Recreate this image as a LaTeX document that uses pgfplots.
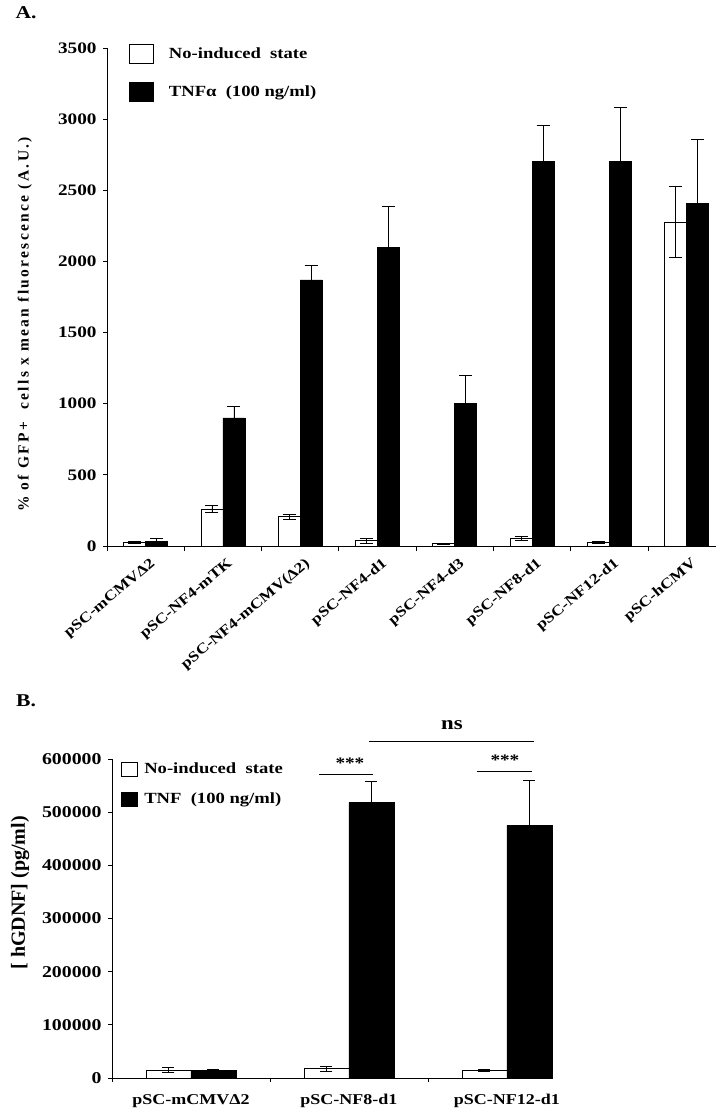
\documentclass[border=0pt]{standalone}
\usepackage{fontspec}
\setmainfont{Liberation Serif}[FakeStretch=1.2]
\newfontfamily\ylfontA{Liberation Serif}[LetterSpace=15]
\newfontfamily\ylfontB{Liberation Serif}
\usepackage{pgfplots}
\pgfplotsset{compat=1.18}
\newcommand{\fs}[1]{\fontsize{#1}{#1}\selectfont}
\begin{document}
\begin{tikzpicture}[x=1pt,y=1pt]
\useasboundingbox (0,0) rectangle (716,-1113);
\node[font=\bfseries\fs{18}] at (26,-12.5) {A.};
\node[font=\bfseries\fs{18}] at (26,-701) {B.};
% ---------------- Panel A ----------------
\begin{axis}[
  at={(107pt,-546pt)}, anchor=south west,
  scale only axis, width=609pt, height=498pt,
  xmin=-0.5, xmax=7.38, ymin=0, ymax=3500,
  axis lines=left, axis line style={-, line width=0.8pt},
  ybar=0pt, bar width=22pt,
  xtick={0,...,7},
  xticklabels={pSC-mCMVΔ2,pSC-NF4-mTK,pSC-NF4-mCMV(Δ2),pSC-NF4-d1,pSC-NF4-d3,pSC-NF8-d1,pSC-NF12-d1,pSC-hCMV},
  major x tick style={draw=none},
  minor xtick={-0.5,0.5,1.5,2.5,3.5,4.5,5.5,6.5},
  minor x tick style={black, line width=0.8pt},
  ytick={0,500,...,3500},
  scaled y ticks=false,
  tick align=outside, major tick length=4pt, minor tick length=5pt,
  tick style={black, line width=0.8pt},
  /pgf/number format/assume math mode=true,
  yticklabel style={font=\bfseries\fs{16}, /pgf/number format/fixed, /pgf/number format/1000 sep={}, xshift=-3pt},
  xticklabel style={font=\bfseries\fs{14.5}, xshift=8pt, yshift=-12pt, rotate=40, anchor=east, inner sep=0pt},
  ylabel={\ylfontA\bfseries\fs{15.5}\% of GFP+~~cells x mean fluorescence (A.U.)},
  ylabel style={at={(axis description cs:-0.135,0.445)}, anchor=center, rotate=0},
  legend style={draw=none, fill=none, at={(axis description cs:0.036,1.008)}, anchor=north west,
    font=\bfseries\fs{15.5}, row sep=18pt, inner sep=0pt,
    nodes={inner xsep=15pt}},
  legend cell align=left,
  legend image code/.code={\draw[#1,draw=black,line width=0.8pt] (0pt,-9.5pt) rectangle (24pt,9.5pt);},
  error bars/y dir=both, error bars/y explicit,
  error bars/error bar style={line width=0.8pt, black},
  error bars/error mark options={rotate=90, mark size=6.5pt, line width=0.8pt, black},
  clip=false,
]
\addplot[fill=white, draw=black, line width=0.8pt] coordinates {
 (0,25) +- (0,8)
 (1,258) +- (0,25)
 (2,205) +- (0,20)
 (3,38) +- (0,18)
 (4,15) +- (0,6)
 (5,52) +- (0,14)
 (6,25) +- (0,6)
 (7,2275) +- (0,250)
};
\addplot[fill=black, draw=black, line width=0.8pt] coordinates {
 (0,35) +- (0,20)
 (1,900) +- (0,80)
 (2,1870) +- (0,100)
 (3,2100) +- (0,290)
 (4,1000) +- (0,200)
 (5,2705) +- (0,250)
 (6,2705) +- (0,380)
 (7,2405) +- (0,455)
};
\legend{No-induced~~state, TNFα~~(100 ng/ml)}
\end{axis}
% ---------------- Panel B ----------------
\begin{axis}[
  at={(112pt,-1078pt)}, anchor=south west,
  scale only axis, width=440pt, height=319pt,
  xmin=-0.5, xmax=2.285, ymin=0, ymax=600000,
  axis lines=left, axis line style={-, line width=0.8pt},
  ybar=0pt, bar width=45pt,
  xtick={0,1,2},
  xticklabels={pSC-mCMVΔ2,pSC-NF8-d1,pSC-NF12-d1},
  major x tick style={draw=none},
  minor xtick={-0.5,0.5,1.5},
  minor x tick style={black, line width=0.8pt},
  ytick={0,100000,...,600000},
  scaled y ticks=false,
  yticklabel style={font=\bfseries\fs{16.5}, /pgf/number format/fixed, /pgf/number format/1000 sep={}, xshift=-3pt},
  tick align=outside, major tick length=4pt, minor tick length=4pt,
  tick style={black, line width=0.8pt},
  /pgf/number format/assume math mode=true,
  xticklabel style={font=\bfseries\fs{15}, yshift=-9pt},
  ylabel={\ylfontB\bfseries\fs{20}[ hGDNF] (pg/ml)},
  ylabel style={at={(axis description cs:-0.209,0.58)}, anchor=center, rotate=0},
  legend style={draw=none, fill=none, at={(axis description cs:0.02,0.995)}, anchor=north west,
    font=\bfseries\fs{15.5}, row sep=14pt, inner sep=0pt,
    nodes={inner xsep=6.5pt}},
  legend cell align=left,
  legend image code/.code={\draw[#1,draw=black,line width=0.8pt] (0pt,-7pt) rectangle (16pt,7pt);},
  error bars/y dir=both, error bars/y explicit,
  error bars/error bar style={line width=0.8pt, black},
  error bars/error mark options={rotate=90, mark size=6pt, line width=0.8pt, black},
  clip=false,
]
\addplot[fill=white, draw=black, line width=0.8pt] coordinates {
 (0,15000) +- (0,4500)
 (1,17500) +- (0,4500)
 (2,15000) +- (0,2000)
};
\addplot[fill=black, draw=black, line width=0.8pt] coordinates {
 (0,15000) +- (0,2000)
 (1,518000) +- (0,40000)
 (2,475000) +- (0,85000)
};
\legend{No-induced~~state, TNF~~(100 ng/ml)}
\draw[line width=0.8pt] (axis cs:0.81,571800) -- (axis cs:1.152,571800);
\node[font=\bfseries\fs{16}] at (axis cs:1.006,593000) {***};
\draw[line width=0.8pt] (axis cs:1.81,577500) -- (axis cs:2.158,577500);
\node[font=\bfseries\fs{16}] at (axis cs:1.987,598500) {***};
\draw[line width=0.8pt] (axis cs:1.127,633900) -- (axis cs:2.171,633900);
\node[font=\bfseries\fs{19}] at (axis cs:1.652,664000) {ns};
\end{axis}
\end{tikzpicture}
\end{document}
